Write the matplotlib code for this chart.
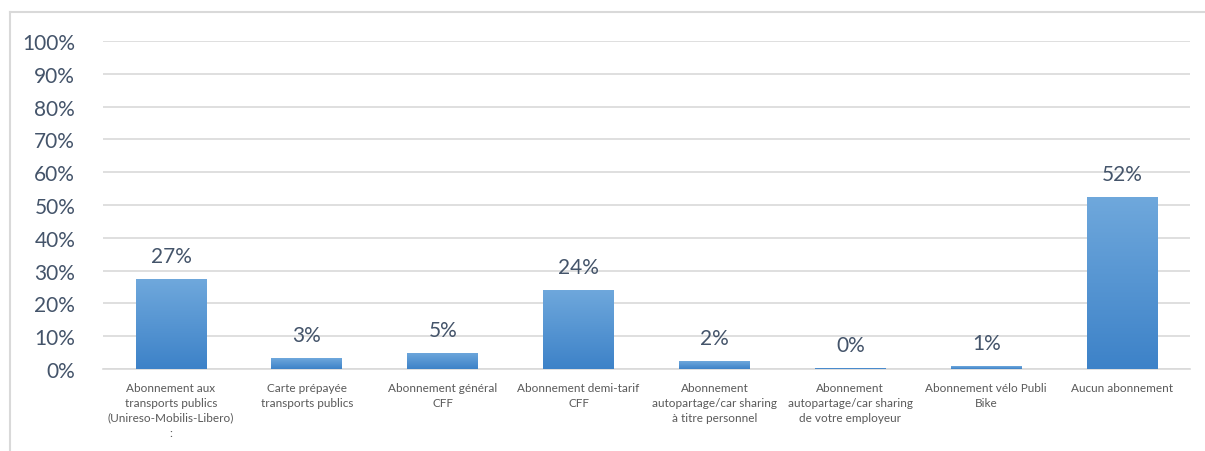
import matplotlib.pyplot as plt
import numpy as np
from matplotlib.colors import LinearSegmentedColormap
from matplotlib.patches import Rectangle

categories = [
    "Abonnement aux\ntransports publics\n(Unireso-Mobilis-Libero)\n:",
    "Carte prépayée\ntransports publics",
    "Abonnement général\nCFF",
    "Abonnement demi-tarif\nCFF",
    "Abonnement\nautopartage/car sharing\nà titre personnel",
    "Abonnement\nautopartage/car sharing\nde votre employeur",
    "Abonnement vélo Publi\nBike",
    "Aucun abonnement",
]
shares = [0.274, 0.033, 0.049, 0.241, 0.024, 0.004, 0.008, 0.524]
yticks = np.arange(0, 1.01, 0.1)

plt.rcParams['font.family'] = ['Lato', 'DejaVu Sans']
txt = '#44546a'
grid = '#d9d9d9'

fig = plt.figure(figsize=(12.05, 4.52), dpi=100)
ax = fig.add_axes([103 / 1205, 1 - 370 / 452, (1190 - 103) / 1205, 328 / 452])

# outer chart frame (left and top edges)
fig.add_artist(plt.Line2D([10 / 1205, 10 / 1205], [0, 1 - 13 / 452], color=grid, lw=1.5, transform=fig.transFigure))
fig.add_artist(plt.Line2D([10 / 1205, 1], [1 - 13 / 452, 1 - 13 / 452], color=grid, lw=1.5, transform=fig.transFigure))

x = np.arange(len(categories))
width = 0.52
cmap = LinearSegmentedColormap.from_list('bar', ['#3d82c8', '#6fa8dc'])
grad = np.linspace(0, 1, 256).reshape(-1, 1)

bars = ax.bar(x, shares, width, color='none', zorder=3)
for b, v in zip(bars, shares):
    x0 = b.get_x()
    im = ax.imshow(grad, cmap=cmap, aspect='auto', origin='lower',
                   extent=[x0, x0 + width, 0, v], zorder=3)
    im.set_clip_path(Rectangle((x0, 0), width, v, transform=ax.transData))
    ax.text(b.get_x() + width / 2, v + 0.04, f"{v:.0%}", ha='center', va='bottom',
            fontsize=15, color=txt)

ax.set_xlim(-0.5, len(categories) - 0.5)
ax.set_ylim(0, 1)
ax.set_yticks(yticks)
ax.set_yticklabels([f"{t:.0%}" for t in yticks], fontsize=15, color=txt)
ax.set_xticks(x)
ax.set_xticklabels(categories, fontsize=8.5, color='#595959', linespacing=1.45)
ax.tick_params(length=0)
ax.tick_params(axis='y', pad=20)
ax.tick_params(axis='x', pad=9)
ax.grid(axis='y', color=grid, lw=1.2, zorder=0)
for s in ['top', 'right', 'left']:
    ax.spines[s].set_visible(False)
ax.spines['bottom'].set_color(grid)
ax.spines['bottom'].set_linewidth(1.2)

fig.savefig('out.png', dpi=100)
